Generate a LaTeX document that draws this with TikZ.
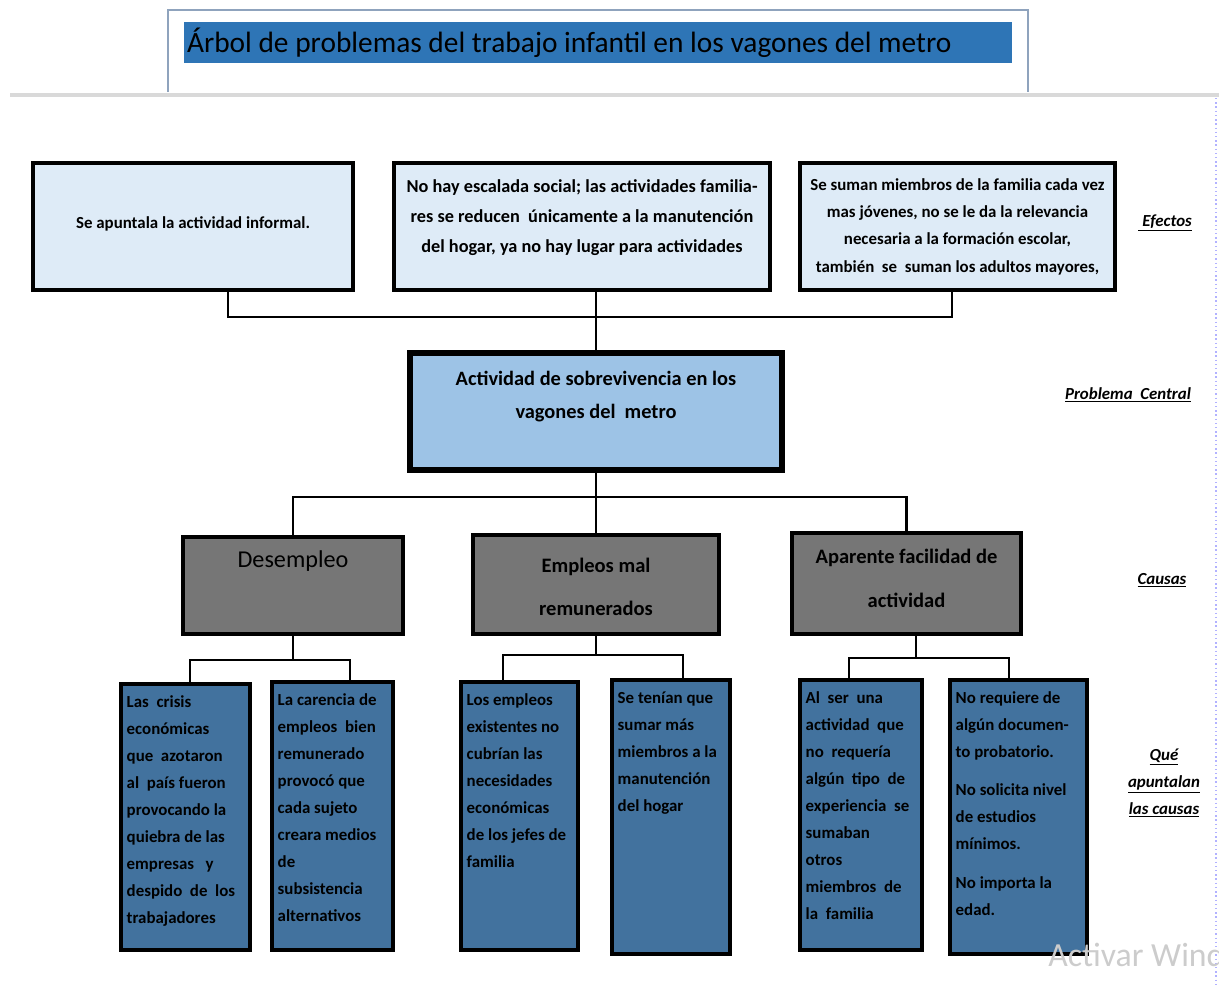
\documentclass[tikz,border=0pt]{standalone}
\usepackage{fontspec}
\setmainfont{Carlito}
\usetikzlibrary{fit,calc}
\definecolor{efectofill}{RGB}{222,235,247}
\definecolor{centralfill}{RGB}{157,195,230}
\definecolor{causafill}{RGB}{118,118,118}
\definecolor{raizfill}{RGB}{66,114,158}
\definecolor{titulofill}{RGB}{46,117,182}
\definecolor{marco}{RGB}{143,163,189}
\tikzset{
  efecto/.style={draw, line width=2.2pt, fill=efectofill, inner sep=0pt},
  central/.style={draw, line width=3.8pt, fill=centralfill, inner sep=0pt},
  causa/.style={draw, line width=2.2pt, fill=causafill, inner sep=0pt},
  raiz/.style={draw, line width=2.2pt, fill=raizfill, inner sep=0pt},
  conn/.style={line width=1.8pt},
  texto/.style={inner sep=0pt, align=center},
  raiztxt/.style={inner sep=0pt, align=left, anchor=north west,
    font=\fontsize{12}{19.2}\selectfont\bfseries},
  nivel/.style={inner sep=0pt, align=center,
    font=\fontsize{12}{19.2}\selectfont\bfseries\itshape}
}
\begin{document}
\begin{tikzpicture}[x=0.025cm,y=-0.025cm]
\useasboundingbox (0,0) rectangle (1219,986);
\draw[marco, line width=0.8pt] (168,92) |- (1028,10) -- (1028,92);
\draw[gray!30, line width=2.2pt] (10,95) -- (1219,95);
\draw[blue!30, dotted, line width=1pt] (1216,98) -- (1216,986);
\node[fill=titulofill, inner sep=0pt, fit={(184,22)(1012,63)}] (tb) {};
\node[texto, anchor=west, font=\fontsize{20.9}{24}\selectfont] (tt) at ([shift={(3,0)}]tb.west)
  {Árbol de problemas del trabajo infantil en los vagones del metro};

\node[efecto, fit={(33,163)(353,290)}] (e1) {};
\node[efecto, fit={(394,163)(770,290)}] (e2) {};
\node[efecto, fit={(800,163)(1115,290)}] (e3) {};
\node[texto, font=\fontsize{12}{21}\selectfont\bfseries] (e1t) at ([shift={(0,-3)}]e1.center)
  {Se apuntala la actividad informal.};
\node[texto, font=\fontsize{13}{21.3}\selectfont\bfseries] (e2t) at ([shift={(0,-9)}]e2.center)
  {No hay escalada social; las actividades familia-\\res se reducen\ \ únicamente a la manutención\\del hogar, ya no hay lugar para actividades};
\node[texto, font=\fontsize{12}{19.4}\selectfont\bfseries] (e3t) at ([shift={(0,0)}]e3.center)
  {Se suman miembros de la familia cada vez\\mas jóvenes, no se le da la relevancia\\necesaria a la formación escolar,\\también\ \ se\ \ suman los adultos mayores,};

\node[central, fit={(410,353)(782,470)}] (p) {};
\node[texto, anchor=north, font=\fontsize{14.5}{22.8}\selectfont\bfseries] (pt) at ([shift={(0,21)}]p.north)
  {Actividad de sobrevivencia en los\\vagones del\ \ metro};

\node[causa, fit={(183,537)(403,634)}] (c1) {};
\node[causa, fit={(473,535)(719,634)}] (c2) {};
\node[causa, fit={(792,533)(1021,634)}] (c3) {};
\node[texto, font=\fontsize{17.2}{20}\selectfont] (c1t) at ([shift={(0,26)}]c1.north) {Desempleo};
\node[texto, font=\fontsize{14.6}{30.6}\selectfont\bfseries] (c2t) at ([shift={(0,2)}]c2.center) {Empleos mal\\remunerados};
\node[texto, font=\fontsize{14.6}{31.3}\selectfont\bfseries] (c3t) at ([shift={(0,-5)}]c3.center) {Aparente facilidad de\\actividad};

\node[raiz, fit={(121,684)(250,950)}] (s1) {};
\node[raiz, fit={(272,682)(393,950)}] (s2) {};
\node[raiz, fit={(461,682)(578,950)}] (s3) {};
\node[raiz, fit={(612,680)(730,954)}] (s4) {};
\node[raiz, fit={(800,680)(922,950)}] (s5) {};
\node[raiz, fit={(950,680)(1087,954)}] (s6) {};
\node[raiztxt] (s1t) at ([shift={(7,13)}]s1.north west)
  {Las\ \ crisis\\económicas\\que\ \ azotaron\\al\ \ país fueron\\provocando la\\quiebra de las\\empresas\ \ \ y\\despido\ \ de\ \ los\\trabajadores};
\node[raiztxt] (s2t) at ([shift={(7,13)}]s2.north west)
  {La carencia de\\empleos\ \ bien\\remunerado\\provocó que\\cada sujeto\\creara medios\\de\\subsistencia\\alternativos};
\node[raiztxt] (s3t) at ([shift={(7,13)}]s3.north west)
  {Los empleos\\existentes no\\cubrían las\\necesidades\\económicas\\de los jefes de\\familia};
\node[raiztxt] (s4t) at ([shift={(7,13)}]s4.north west)
  {Se tenían que\\sumar más\\miembros a la\\manutención\\del hogar};
\node[raiztxt] (s5t) at ([shift={(7,13)}]s5.north west)
  {Al\ \ ser\ \ una\\actividad\ \ que\\no\ \ requería\\algún\ \ tipo\ \ de\\experiencia\ \ se\\sumaban\\otros\\miembros\ \ de\\la\ \ familia};
\node[raiztxt] (s6t) at ([shift={(7,13)}]s6.north west)
  {No requiere de\\algún documen-\\to probatorio.\\[7.5pt]No solicita nivel\\de estudios\\mínimos.\\[8.5pt]No importa la\\edad.};

\coordinate (ej1) at (228,317);
\coordinate (ej2) at (952,317);
\draw[conn] (e1.south -| ej1) -- (ej1) -- (ej2) -- (e3.south -| ej2);
\draw[conn] (p.north) -- (p.north |- e2.south);
\coordinate (cj) at (597,497);
\draw[conn] (p.south) -- (c2.north);
\draw[conn] (c1.north) |- (cj) -| (c3.north);
\coordinate (d1) at (190,660);
\coordinate (d2) at (350,660);
\coordinate (d3) at (503,655);
\coordinate (d4) at (683,655);
\coordinate (d5) at (849,658);
\coordinate (d6) at (1009,658);
\coordinate (d7) at (916,658);
\draw[conn] (c1.south) -- (c1.south |- d1);
\draw[conn] (s1.north -| d1) -- (d1) -- (d2) -- (s2.north -| d2);
\draw[conn] (c2.south) -- (c2.south |- d3);
\draw[conn] (s3.north -| d3) -- (d3) -- (d4) -- (s4.north -| d4);
\draw[conn] (c3.south -| d7) -- (d7);
\draw[conn] (s5.north -| d5) -- (d5) -- (d6) -- (s6.north -| d6);

\node[nivel] (ne) at (1165,223) {\underline{\hspace{3pt}Efectos}};
\node[nivel] (np) at (1128,395) {\underline{Problema\ \ Central}};
\node[nivel] (nc) at (1162,580) {\underline{Causas}};
\node[nivel] (nq) at (1164,783)
  {\underline{Qué}\\\underline{apuntalan}\\\underline{las causas}};
\node[texto, anchor=base west, text=gray!40, font=\fontsize{24}{26}\selectfont] (wm) at (1048,966) {Activar Windows};
\end{tikzpicture}
\end{document}
